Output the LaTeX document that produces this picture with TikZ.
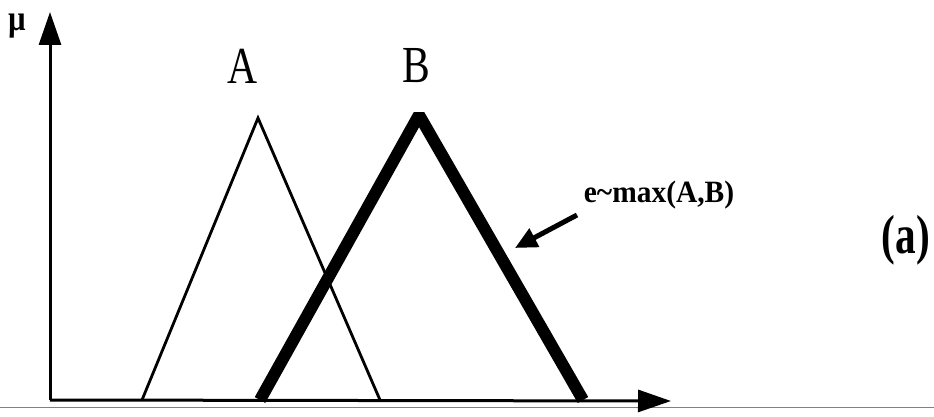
\documentclass[tikz,border=0pt]{standalone}
\usepackage{fontspec}
\setmainfont{Liberation Serif}
\usetikzlibrary{arrows.meta}
\begin{document}
\begin{tikzpicture}[x=1pt,y=-1pt,
  axis/.style={line width=3pt,-{Triangle[length=33pt,width=22pt]}},
  thinmf/.style={line width=2.8pt,line join=miter},
  thickmf/.style={line width=12pt,line join=bevel,line cap=butt},
  lbl/.style={inner sep=0pt,anchor=center}]
\useasboundingbox (0,0) rectangle (934,417);
\draw[gray,line width=1pt] (0,407) -- (934,407);
\coordinate (O) at (50,400);
\coordinate (Ytip) at (50,12);
\coordinate (Xtip) at (671,401);
\draw[axis] (O) -- (Ytip);
\draw[axis] (O) -- (Xtip);
\node[inner sep=0pt,anchor=base,text height=17pt,text depth=8pt,xscale=0.85,font=\bfseries\fontsize{36}{36}\selectfont] (mu) at (17,31) {µ};
% triangle A
\coordinate (a1) at (142,400);
\coordinate (a2) at (258,118);
\coordinate (a3) at (380,400);
\draw[thinmf] (a1) -- (a2) -- (a3);
% triangle B
\coordinate (b1) at (260,400);
\coordinate (b2) at (419,115);
\coordinate (b3) at (583,400);
\draw[thickmf] (b1) -- (b2) -- (b3);
\node[lbl,xscale=0.8,font=\fontsize{52}{52}\selectfont] (A) at (243,66) {A};
\node[lbl,xscale=0.8,font=\fontsize{52}{52}\selectfont] (B) at (416,66) {B};
\node[lbl,xscale=0.95,font=\bfseries\fontsize{31}{31}\selectfont] (e) at (659,195) {e\char`\~max(A,B)};
\coordinate (etail) at (577,215);
\coordinate (etip) at (515,248);
\draw[line width=5pt,-{Triangle[length=22pt,width=20pt]}] (etail) -- (etip);
\node[lbl,xscale=0.75,font=\bfseries\fontsize{55}{55}\selectfont] (a) at (906,240) {(a)};
\end{tikzpicture}
\end{document}
